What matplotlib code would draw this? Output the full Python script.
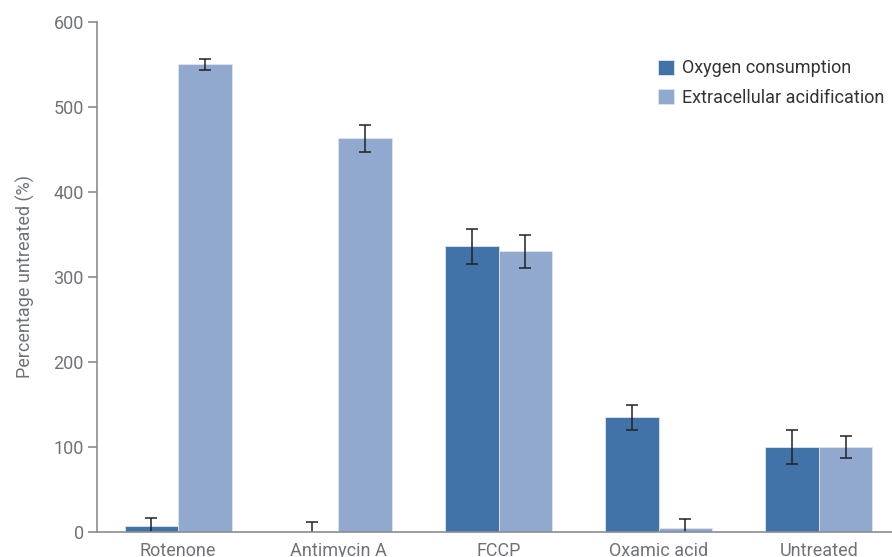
import numpy as np
import matplotlib
matplotlib.use("Agg")
import matplotlib.pyplot as plt

plt.rcParams["font.family"] = ["Roboto", "DejaVu Sans"]

treatments = ["Rotenone", "Antimycin A", "FCCP", "Oxamic acid", "Untreated"]
ocr = [7, 0, 336, 135, 100]
ocr_err = [10, 12, 21, 15, 20]
ecar = [550, 463, 330, 5, 100]
ecar_err = [7, 16, 19, 10, 13]

DARK = "#4273a8"
LIGHT = "#91a9cf"
AXIS = "#8a8d91"
TEXT = "#6f7378"

fig = plt.figure(figsize=(8.92, 5.57), dpi=100)
ax = fig.add_axes([97 / 892, 25 / 557, 1 - 97 / 892, 510 / 557])

x = np.arange(len(treatments))
w = 0.334
err_kw = dict(ecolor="#222222", elinewidth=1.1, capsize=4, capthick=1.1)
ax.bar(x - w / 2, ocr, w, yerr=ocr_err, color=DARK, edgecolor="#dfe6f0",
       linewidth=0.6, error_kw=err_kw, label="Oxygen consumption", zorder=2)
ax.bar(x + w / 2, ecar, w, yerr=ecar_err, color=LIGHT, edgecolor="#dfe6f0",
       linewidth=0.6, error_kw=err_kw, label="Extracellular acidification",
       zorder=2)

ax.set_xlim(-0.506, 4.456)
ax.set_ylim(0, 600)
ax.set_yticks(range(0, 601, 100))
ax.set_xticks(x)
ax.set_xticklabels(treatments)

for side in ("top", "right"):
    ax.spines[side].set_visible(False)
for side in ("left", "bottom"):
    ax.spines[side].set_color(AXIS)
    ax.spines[side].set_linewidth(1.2)
    ax.spines[side].set_zorder(3)

ax.tick_params(axis="y", colors=AXIS, labelcolor=TEXT, labelsize=13,
               length=6.5, width=1.2, pad=3)
ax.tick_params(axis="x", length=0, labelcolor=TEXT, labelsize=13, pad=7)
ax.set_ylabel("Percentage untreated (%)", color=TEXT, fontsize=13,
              labelpad=13)

leg = ax.legend(loc="upper right", bbox_to_anchor=(1.0, 0.941), frameon=False,
                fontsize=13, handlelength=0.9, handleheight=0.9,
                handletextpad=0.45, labelspacing=0.65, borderaxespad=0.0)
for t in leg.get_texts():
    t.set_color("#333333")

fig.savefig("out.png", dpi=100)
